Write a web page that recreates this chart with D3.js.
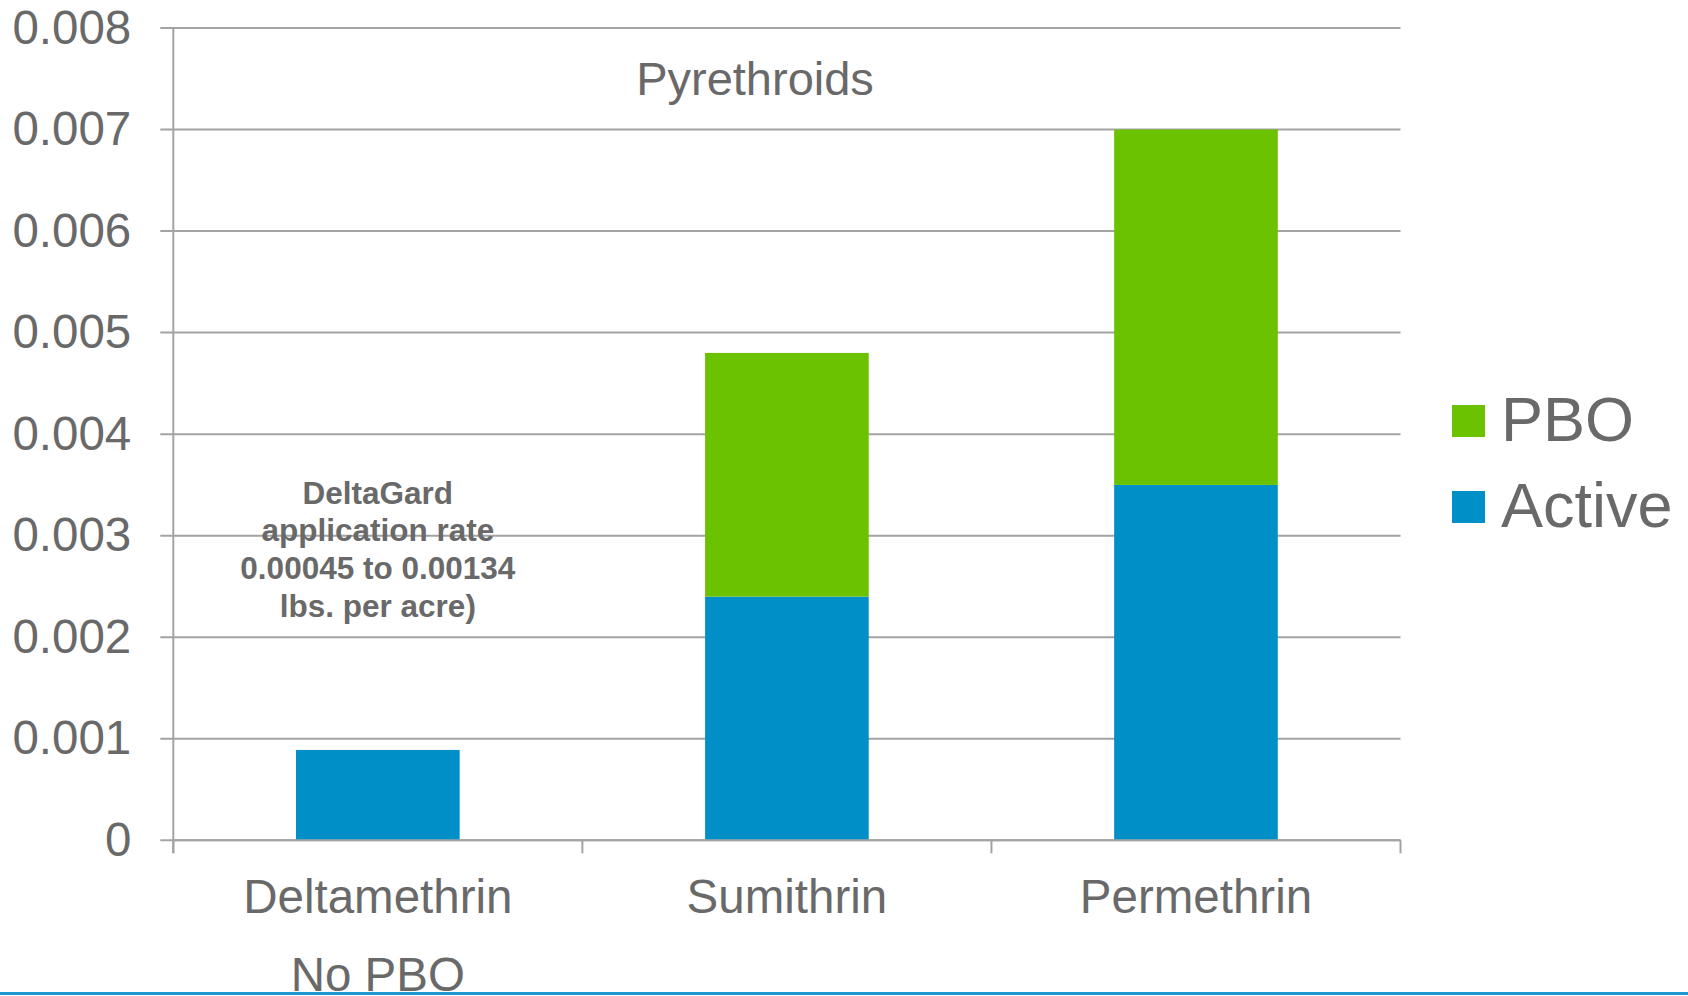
<!DOCTYPE html>
<html>
<head>
<meta charset="utf-8">
<script src="https://cdn.jsdelivr.net/npm/d3@7"></script>
<style>
  html, body { margin: 0; padding: 0; background: #ffffff; }
  svg { display: block; }
  text { font-family: "Liberation Sans", Arial, Helvetica, sans-serif; }
</style>
</head>
<body>
<svg id="chart" width="1688" height="996"></svg>
<script>
// ---- data ----
const categories = ["Deltamethrin", "Sumithrin", "Permethrin"];
const subLabels = ["No PBO", "", ""];
const activeValues = [0.00089, 0.0024, 0.0035];
const pboValues = [0, 0.0024, 0.0035];
const seriesNames = ["PBO", "Active"];
const yTicks = [0, 0.001, 0.002, 0.003, 0.004, 0.005, 0.006, 0.007, 0.008];
const yTickLabels = ["0", "0.001", "0.002", "0.003", "0.004", "0.005", "0.006", "0.007", "0.008"];
const titleText = "Pyrethroids";
const annotationLines = ["DeltaGard", "application rate", "0.00045 to 0.00134", "lbs. per acre)"];

(function () {
// ---- styles ----
const textColor = "#696969";
const gridColor = "#a3a3a3";
const colorActive = "#008fc6";
const colorPBO = "#6ac200";
const font = "'Liberation Sans', Arial, Helvetica, sans-serif";

const svg = d3.select("#chart");
const pLeft = 173.3, pRight = 1400.5, pTop = 28, pBottom = 840.3;

const x = d3.scaleBand().domain(categories).range([pLeft, pRight])
  .paddingInner(0.6).paddingOuter(0.3);
const y = d3.scaleLinear().domain([0, 0.008]).range([pBottom, pTop]);

// gridlines
svg.append("g").selectAll("line").data(yTicks).join("line")
  .attr("x1", pLeft - 13).attr("x2", pRight)
  .attr("y1", d => y(d)).attr("y2", d => y(d))
  .attr("stroke", gridColor).attr("stroke-width", 2);

// bars
const rows = categories.map((c, i) => ({ cat: c, Active: activeValues[i], PBO: pboValues[i] }));
const stack = d3.stack().keys(["Active", "PBO"])(rows);
const colors = { Active: colorActive, PBO: colorPBO };
svg.append("g").selectAll("g").data(stack).join("g")
  .attr("fill", s => colors[s.key])
  .selectAll("rect").data(s => s.filter(d => d[1] - d[0] > 0)).join("rect")
  .attr("x", d => x(d.data.cat))
  .attr("width", x.bandwidth())
  .attr("y", d => y(d[1]))
  .attr("height", d => y(d[0]) - y(d[1]));

// y axis line
svg.append("line").attr("x1", pLeft).attr("x2", pLeft)
  .attr("y1", pTop).attr("y2", pBottom + 13)
  .attr("stroke", gridColor).attr("stroke-width", 2);
// x axis line
svg.append("line").attr("x1", pLeft).attr("x2", pRight)
  .attr("y1", pBottom).attr("y2", pBottom)
  .attr("stroke", gridColor).attr("stroke-width", 2);
// x ticks at band boundaries
const bounds = d3.range(categories.length + 1).map(i => pLeft + i * (pRight - pLeft) / categories.length);
svg.append("g").selectAll("line").data(bounds).join("line")
  .attr("x1", d => d).attr("x2", d => d)
  .attr("y1", pBottom).attr("y2", pBottom + 13)
  .attr("stroke", gridColor).attr("stroke-width", 2);

// y axis labels via d3 axis
const yAxis = d3.axisLeft(y).tickValues(yTicks)
  .tickFormat((d, i) => yTickLabels[i]).tickSize(0).tickPadding(42);
const gy = svg.append("g").attr("transform", `translate(${pLeft},0)`).call(yAxis);
gy.select(".domain").remove();
gy.selectAll("text").attr("fill", textColor).style("font-size", "47.5px")
  .style("font-family", font);

// x axis labels
const xAxis = d3.axisBottom(x).tickSize(0).tickPadding(0);
const gx = svg.append("g").attr("transform", `translate(0,${pBottom})`).call(xAxis);
gx.select(".domain").remove();
gx.selectAll("text").attr("fill", textColor).style("font-size", "47.5px")
  .style("font-family", font).attr("dy", null).attr("y", 73);

// sub labels
svg.append("g").selectAll("text").data(categories.map((c, i) => ({ c, t: subLabels[i] })).filter(d => d.t))
  .join("text")
  .attr("x", d => x(d.c) + x.bandwidth() / 2)
  .attr("y", 991)
  .attr("text-anchor", "middle")
  .attr("fill", textColor).style("font-size", "47.5px")
  .text(d => d.t);

// title
svg.append("text").attr("x", 755).attr("y", 95)
  .attr("text-anchor", "middle").attr("fill", textColor)
  .style("font-size", "47px").text(titleText);

// annotation
const annX = x(categories[0]) + x.bandwidth() / 2;
svg.append("g").selectAll("text").data(annotationLines).join("text")
  .attr("x", annX)
  .attr("y", (d, i) => 503.5 + i * 37.8)
  .attr("text-anchor", "middle").attr("fill", textColor)
  .style("font-size", "31.5px").style("font-weight", "bold")
  .text(d => d);

// legend
const legend = svg.append("g");
const legendY = [421, 507];
seriesNames.forEach((name, i) => {
  legend.append("rect").attr("x", 1452).attr("y", legendY[i] - 16)
    .attr("width", 33).attr("height", 32).attr("fill", colors[name]);
  legend.append("text").attr("x", 1501).attr("y", legendY[i] + 20)
    .attr("fill", textColor).style("font-size", "63px").text(name);
});

// bottom blue rule
svg.append("line").attr("x1", 0).attr("x2", 1688)
  .attr("y1", 993.5).attr("y2", 993.5)
  .attr("stroke", "#1e96cf").attr("stroke-width", 3);
})();
</script>
</body>
</html>
